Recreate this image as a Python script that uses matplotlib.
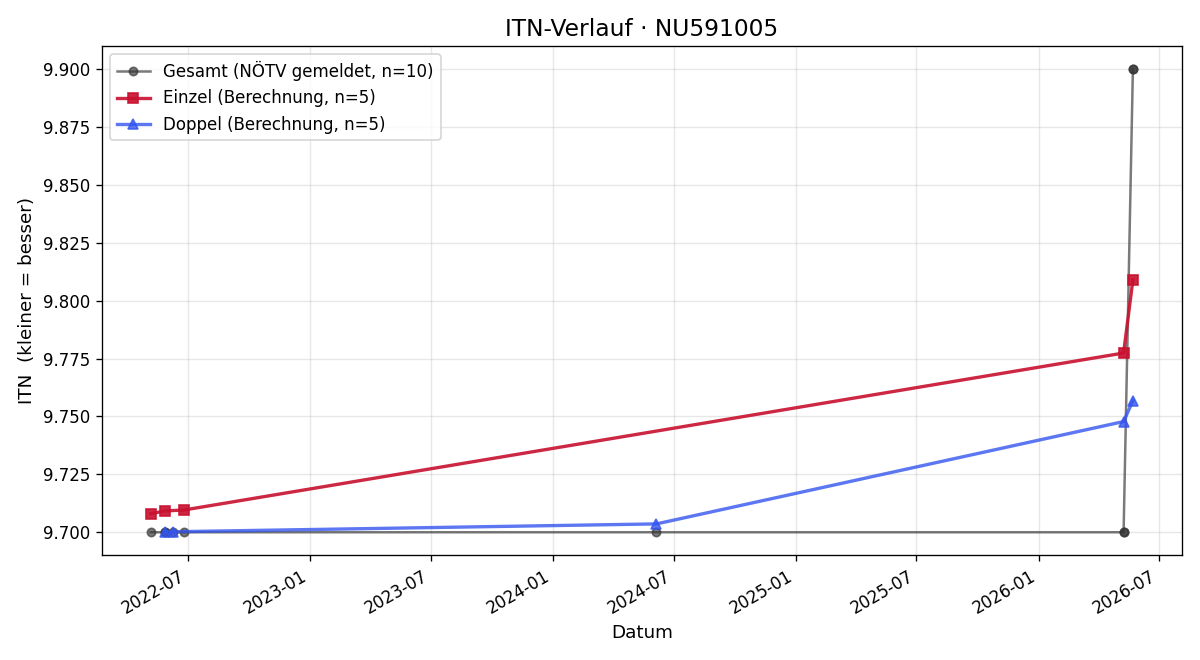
import matplotlib.pyplot as plt
import matplotlib.dates as mdates
from matplotlib.ticker import FormatStrFormatter
import numpy as np

gesamt_dates = ['2022-05-06', '2022-05-27', '2022-05-27', '2022-06-08', '2022-06-25',
                '2024-06-05', '2026-05-09', '2026-05-09', '2026-05-23', '2026-05-23']
gesamt_itn = [9.700, 9.700, 9.700, 9.700, 9.700, 9.700, 9.700, 9.700, 9.900, 9.900]

einzel_dates = ['2022-05-06', '2022-05-27', '2022-06-25', '2026-05-09', '2026-05-23']
einzel_itn = [9.7080, 9.7092, 9.7096, 9.7774, 9.8090]

doppel_dates = ['2022-05-27', '2022-06-08', '2024-06-05', '2026-05-09', '2026-05-23']
doppel_itn = [9.7001, 9.7002, 9.7036, 9.7478, 9.7568]

def to_dt(lst):
    return np.array(lst, dtype='datetime64[D]')

fig, ax = plt.subplots(figsize=(10, 5.5), dpi=120)

ax.plot(to_dt(gesamt_dates), gesamt_itn, color='#333333', alpha=0.65, marker='o',
        markersize=5, linewidth=1.5, label='Gesamt (NÖTV gemeldet, n=10)')
ax.plot(to_dt(einzel_dates), einzel_itn, color='#c8102e', alpha=0.9, marker='s',
        markersize=6, linewidth=2, label='Einzel (Berechnung, n=5)')
ax.plot(to_dt(doppel_dates), doppel_itn, color='#3355ee', alpha=0.8, marker='^',
        markersize=6, linewidth=2, label='Doppel (Berechnung, n=5)')

ax.set_title('ITN-Verlauf · NU591005', fontsize=14)
ax.set_xlabel('Datum', fontsize=11)
ax.set_ylabel('ITN  (kleiner = besser)', fontsize=11)
ax.yaxis.set_major_formatter(FormatStrFormatter('%.3f'))
ax.xaxis.set_major_locator(mdates.MonthLocator(bymonth=[1, 7]))
ax.xaxis.set_major_formatter(mdates.DateFormatter('%Y-%m'))
ax.grid(True, alpha=0.3)
ax.legend(loc='upper left', fontsize=10)
fig.autofmt_xdate()
fig.tight_layout()
fig.savefig('out.png')
